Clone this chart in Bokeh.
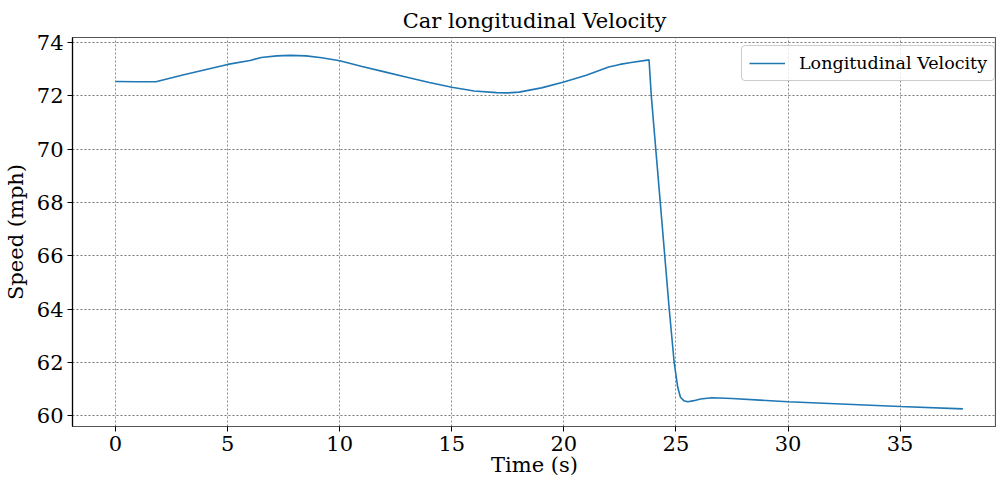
from bokeh.plotting import figure
from bokeh.models import Range1d, FixedTicker, Legend, LegendItem
from bokeh.embed import file_html
from bokeh.resources import INLINE

time_s = [0, 1, 1.8, 3, 4, 5, 6, 6.5, 7.2, 7.8, 8.5, 9.2, 10, 11, 12, 13, 14, 15, 16, 17,
          17.5, 18, 19, 20, 21, 22, 22.5, 23, 23.8, 23.9, 24.1, 24.3, 24.5, 24.7, 24.92,
          25.08, 25.2, 25.35, 25.53, 25.8, 26.1, 26.6, 27.5, 30, 35, 37.8]
speed_mph = [72.54, 72.53, 72.53, 72.78, 72.98, 73.18, 73.33, 73.44, 73.5, 73.52, 73.5, 73.43,
             73.32, 73.1, 72.9, 72.7, 72.5, 72.32, 72.18, 72.12, 72.11, 72.14, 72.3, 72.52,
             72.77, 73.08, 73.18, 73.25, 73.35, 72.0, 70.0, 68.0, 66.0, 64.0, 62.0,
             61.06, 60.69, 60.56, 60.52, 60.56, 60.62, 60.67, 60.64, 60.52, 60.34, 60.25]
x_ticks = [0, 5, 10, 15, 20, 25, 30, 35]
y_ticks = [60, 62, 64, 66, 68, 70, 72, 74]

FONT = "DejaVu Serif"

p = figure(width=996, height=479, output_backend="svg", toolbar_location=None,
           x_range=Range1d(-1.92, 39.3), y_range=Range1d(59.59, 74.19),
           min_border_left=0, min_border_right=0, min_border_top=37, min_border_bottom=53)

p.title.text = "Car longitudinal Velocity"
p.title.align = "center"
p.title.text_font = FONT
p.title.text_font_size = "21px"
p.title.text_font_style = "normal"
p.title.text_color = "black"

r = p.line(time_s, speed_mph, line_color="#1f77b4", line_width=1.6)

p.xaxis.ticker = FixedTicker(ticks=x_ticks)
p.yaxis.ticker = FixedTicker(ticks=y_ticks)
for ax in (p.xaxis[0], p.yaxis[0]):
    ax.major_label_text_font = FONT
    ax.major_label_text_font_size = "21px"
    ax.major_label_text_color = "black"
    ax.axis_label_text_font = FONT
    ax.axis_label_text_font_size = "21px"
    ax.axis_label_text_font_style = "normal"
    ax.axis_label_text_color = "black"
    ax.minor_tick_line_color = None
    ax.major_tick_out = 5
    ax.major_tick_in = 0
    ax.major_tick_line_color = "black"
p.xaxis.axis_label = "Time (s)"
p.yaxis.axis_label = "Speed (mph)"
p.yaxis.axis_line_color = "black"
p.xaxis.axis_line_color = "#555555"
p.xaxis.axis_line_width = 1.2
p.yaxis.axis_line_width = 1.2
p.xaxis.axis_label_standoff = -1
p.yaxis.axis_label_standoff = 6
p.xaxis.major_label_standoff = 4
p.yaxis.major_label_standoff = 4

p.outline_line_color = "#555555"
p.outline_line_width = 1.2

p.xgrid.grid_line_color = "#888888"
p.ygrid.grid_line_color = "#777777"
p.xgrid.grid_line_dash = "2 2"
p.ygrid.grid_line_dash = "2 2"
p.xgrid.grid_line_width = 1
p.ygrid.grid_line_width = 1

legend = Legend(items=[LegendItem(label="Longitudinal Velocity", renderers=[r])],
                location=(669, 345))
legend.label_text_font = FONT
legend.label_text_font_size = "17.5px"
legend.label_text_color = "black"
legend.border_line_color = "#cccccc"
legend.border_line_alpha = 1
legend.border_radius = 4
legend.background_fill_alpha = 0.8
legend.margin = 0
legend.padding = 7
legend.glyph_width = 36
legend.label_standoff = 14
legend.spacing = 0
p.add_layout(legend)

open("out.html", "w").write(file_html(p, INLINE))
